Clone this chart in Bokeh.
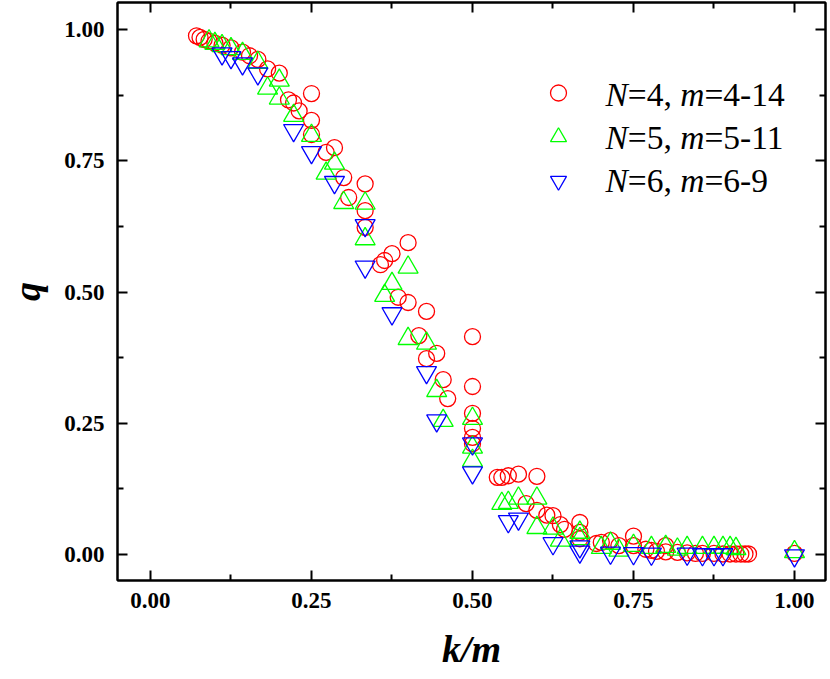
from bokeh.plotting import figure
from bokeh.models import LinearAxis, FixedTicker, Range1d, Legend, LegendItem, Label
from bokeh.core.properties import value
from bokeh.embed import file_html
from bokeh.resources import INLINE

# ---------------- data ----------------
x_n4 = [0.0714, 0.0769, 0.0833, 0.0909, 0.1000, 0.1111, 0.1250, 0.1429, 0.1538, 0.1667,
        0.1818, 0.2000, 0.2143, 0.2222, 0.2308, 0.2500, 0.2500, 0.2500, 0.2727, 0.2857,
        0.3000, 0.3077, 0.3333, 0.3333, 0.3333, 0.3571, 0.3636, 0.3750, 0.3846, 0.4000,
        0.4000, 0.4167, 0.4286, 0.4286, 0.4444, 0.4545, 0.4615, 0.5000, 0.5000, 0.5000,
        0.5000, 0.5000, 0.5000, 0.5385, 0.5455, 0.5556, 0.5714, 0.6000, 0.5833, 0.6000,
        0.6154, 0.6250, 0.6364, 0.6429, 0.6667, 0.6667, 0.6667, 0.6923, 0.7000, 0.7143,
        0.7273, 0.7500, 0.7500, 0.7692, 0.7778, 0.7857, 0.8000, 0.8000, 0.8182, 0.8333,
        0.8462, 0.8571, 0.8750, 0.8889, 0.9000, 0.9091, 0.9167, 0.9231, 0.9286, 1.0000]
q_n4 = [0.988, 0.985, 0.981, 0.978, 0.974, 0.970, 0.965, 0.957, 0.950, 0.943,
        0.925, 0.917, 0.866, 0.860, 0.845, 0.878, 0.827, 0.800, 0.766, 0.775,
        0.718, 0.680, 0.706, 0.655, 0.623, 0.552, 0.560, 0.573, 0.490, 0.594,
        0.480, 0.417, 0.463, 0.373, 0.383, 0.333, 0.297, 0.415, 0.320, 0.269,
        0.240, 0.223, 0.211, 0.147, 0.147, 0.150, 0.153, 0.149, 0.097, 0.084,
        0.075, 0.074, 0.057, 0.048, 0.061, 0.042, 0.030, 0.021, 0.023, 0.027,
        0.017, 0.035, 0.017, 0.010, 0.008, 0.006, 0.017, 0.005, 0.004, 0.003,
        0.002, 0.002, 0.002, 0.001, 0.001, 0.001, 0.001, 0.001, 0.001, 0.002]

x_n5 = [0.0909, 0.1000, 0.1111, 0.1250, 0.1429, 0.1667, 0.1818, 0.2000, 0.2000, 0.2222,
        0.2500, 0.2727, 0.2857, 0.3000, 0.3333, 0.3333, 0.3636, 0.3750, 0.4000, 0.4000,
        0.4286, 0.4444, 0.4545, 0.5000, 0.5000, 0.5000, 0.5455, 0.5556, 0.5714, 0.6000,
        0.6000, 0.6250, 0.6364, 0.6667, 0.6667, 0.7000, 0.7143, 0.7273, 0.7500, 0.7778,
        0.8000, 0.8182, 0.8333, 0.8571, 0.8750, 0.8889, 0.9000, 0.9091, 1.0000]
q_n5 = [0.978, 0.973, 0.969, 0.963, 0.954, 0.937, 0.888, 0.903, 0.869, 0.836,
        0.798, 0.726, 0.745, 0.670, 0.669, 0.601, 0.493, 0.516, 0.547, 0.411,
        0.402, 0.312, 0.255, 0.259, 0.204, 0.179, 0.097, 0.099, 0.107, 0.107,
        0.051, 0.050, 0.027, 0.042, 0.030, 0.013, 0.021, 0.008, 0.017, 0.013,
        0.015, 0.010, 0.013, 0.013, 0.013, 0.013, 0.013, 0.011, 0.005]

x_n6 = [0.1111, 0.1250, 0.1429, 0.1667, 0.2222, 0.2500, 0.2857, 0.3333, 0.3333, 0.3750,
        0.4286, 0.4444, 0.5000, 0.5000, 0.5556, 0.5714, 0.6250, 0.6667, 0.6667, 0.7143,
        0.7500, 0.7778, 0.8333, 0.8571, 0.8750, 0.8889, 1.0000]
q_n6 = [0.954, 0.947, 0.935, 0.916, 0.808, 0.766, 0.709, 0.627, 0.548, 0.459,
        0.347, 0.255, 0.211, 0.156, 0.063, 0.068, 0.021, 0.015, 0.005, 0.003,
        0.002, 0.001, 0.001, 0.000, 0.000, 0.000, -0.002]

major_ticks = [0.0, 0.25, 0.5, 0.75, 1.0]
tick_labels = ["0.00", "0.25", "0.50", "0.75", "1.00"]
minor_ticks = [0.125, 0.375, 0.625, 0.875]

legend_N = ["4", "5", "6"]
legend_m = ["4-14", "5-11", "6-9"]
x_title = "k/m"
y_title = "q"

# ---------------- figure ----------------
FONT = "Liberation Serif"

p = figure(frame_width=708, frame_height=578,
           x_range=Range1d(-0.05124, 1.04814), y_range=Range1d(-0.04952, 1.05143),
           output_backend="svg", toolbar_location=None,
           min_border_left=117, min_border_top=2, min_border_right=3, min_border_bottom=99,
           x_axis_label=x_title, y_axis_label=y_title)
p.grid.visible = False
p.outline_line_color = "black"
p.outline_line_width = 2
p.background_fill_color = "white"
p.border_fill_color = "white"

ticker = FixedTicker(ticks=major_ticks, minor_ticks=minor_ticks)
overrides = {t: s for t, s in zip(major_ticks, tick_labels)}


def style_axis(ax, labels=True):
    ax.ticker = ticker
    ax.axis_line_width = 2
    ax.axis_line_color = "black"
    ax.major_tick_line_width = 2
    ax.minor_tick_line_width = 2
    ax.major_tick_in = 10
    ax.major_tick_out = 0
    ax.minor_tick_in = 6
    ax.minor_tick_out = 0
    if labels:
        ax.major_label_overrides = overrides
        ax.major_label_text_font = FONT
        ax.major_label_text_font_style = "bold"
        ax.major_label_text_font_size = "23px"
        ax.major_label_text_color = "black"
        ax.axis_label_text_font = FONT
        ax.axis_label_text_font_style = "bold italic"
        ax.axis_label_text_font_size = "38px"
        ax.axis_label_text_color = "black"
    else:
        ax.major_label_overrides = {t: "" for t in major_ticks}
        ax.major_label_text_font_size = "0px"
        ax.major_label_standoff = 0


for ax in p.xaxis:
    style_axis(ax)
    ax.major_label_standoff = 12
    ax.axis_label_standoff = 17
for ax in p.yaxis:
    style_axis(ax)
    ax.major_label_standoff = 13
    ax.axis_label_standoff = 13
    ax.axis_label_text_align = "left"

top = LinearAxis()
style_axis(top, labels=False)
p.add_layout(top, "above")
right = LinearAxis()
style_axis(right, labels=False)
p.add_layout(right, "right")

r4 = p.scatter(x_n4, q_n4, marker="circle", size=16, fill_color=None,
               line_color="#ff0000", line_width=1.3)
r5 = p.scatter(x_n5, q_n5, marker="triangle", size=20, fill_color=None,
               line_color="#00ff00", line_width=1.3)
r6 = p.scatter(x_n6, q_n6, marker="inverted_triangle", size=20, fill_color=None,
               line_color="#0000ff", line_width=1.3)

# legend markers (labels drawn separately with mixed italic text)
legend = Legend(items=[LegendItem(label=value(""), renderers=[r]) for r in (r4, r5, r6)],
                location=(421, 378), padding=0, margin=0, spacing=1,
                glyph_width=40, glyph_height=43, label_width=0, label_standoff=0,
                label_text_font_size="10px", border_line_color=None,
                background_fill_alpha=0)
p.add_layout(legend, "center")

# legend text: "N=4, m=4-14" with italic N and m
fs = 33.5
adv = {"N": 0.667, "eq": 0.564, "d": 0.5, "comma": 0.25, "space": 0.25, "m": 0.722}
text_x = 0.7065
centers = [0.8768, 0.7943, 0.7124]
for nval, mval, yc in zip(legend_N, legend_m, centers):
    off_eq = adv["N"] * fs
    off_m = (adv["N"] + adv["eq"] + adv["d"] * len(nval) + adv["comma"] + adv["space"]) * fs
    off_eq2 = off_m + adv["m"] * fs
    pieces = [("N", 0, "italic"), ("=" + nval + ",", off_eq, "normal"),
              ("m", off_m, "italic"), ("=" + mval, off_eq2, "normal")]
    for txt, off, style in pieces:
        p.add_layout(Label(x=text_x, y=yc, x_offset=off, text=txt,
                           text_font=FONT, text_font_size=f"{fs}px",
                           text_font_style=style, text_color="black",
                           text_baseline="middle", text_align="left"))

open("out.html", "w").write(file_html(p, INLINE))
